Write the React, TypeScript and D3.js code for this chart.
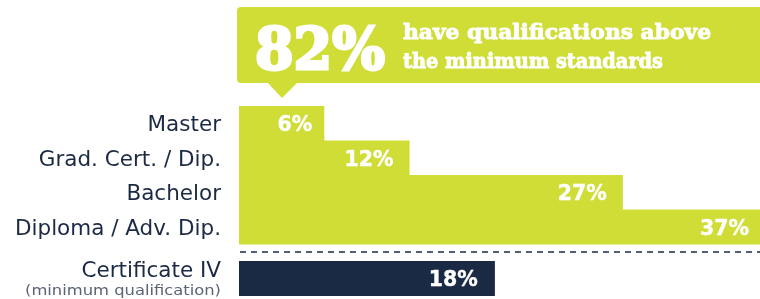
import React from 'react';
import * as d3 from 'd3';

// qualifications above the minimum standard
const categories = ['Master', 'Grad. Cert. / Dip.', 'Bachelor', 'Diploma / Adv. Dip.'];
const values = [6, 12, 27, 37];

// the minimum qualification
const minCategory = 'Certificate IV';
const minNote = '(minimum qualification)';
const minValue = 18;

const headlineValue = 82;
const headlineText = ['have qualifications above', 'the minimum standards'];

const LIME = '#cfdd36';
const NAVY = '#1b2a44';

const App = () => {
    const x = d3.scaleLinear().domain([0, 37]).range([239, 765]);

    const y = d3.scaleBand()
        .domain(categories)
        .range([106, 244])
        .padding(0);

    const labelX = 221;
    const labelFont = "'DejaVu Sans', sans-serif";
    const slabFont = "'DejaVu Serif', serif";

    return (
        <svg width={760} height={299}
            style={{ position: 'fixed', left: 0, top: 0, display: 'block' }}>
            {/* callout */}
            <rect x={237} y={7} width={540} height={76} rx={4} fill={LIME} />
            <path d="M267,82 L282,98 L298,82 Z" fill={LIME} />
            <text x={255} y={69} fill="#fff" stroke="#fff" strokeWidth={3}
                fontFamily={slabFont} fontWeight="bold" fontSize={57}
                textLength={130} lengthAdjust="spacingAndGlyphs">
                {headlineValue}%
            </text>
            {headlineText.map((t, i) => (
                <text key={t} x={403} y={39 + i * 29} fill="#fff" stroke="#fff" strokeWidth={0.9}
                    fontFamily={slabFont} fontWeight="bold" fontSize={21}
                    textLength={i === 0 ? 308 : 260} lengthAdjust="spacingAndGlyphs">
                    {t}
                </text>
            ))}

            {/* bars */}
            {categories.map((c, i) => (
                <g key={c}>
                    <rect x={x(0)} y={y(c)} width={x(values[i]) - x(0)}
                        height={y.bandwidth() + 0.5} fill={LIME} />
                    <text x={labelX} y={y(c) + y.bandwidth() / 2 + 8} textAnchor="end"
                        fill={NAVY} fontFamily={labelFont} fontSize={21.5}>
                        {c}
                    </text>
                    <text x={Math.min(x(values[i]) - (i === 0 ? 12 : 16), 752)}
                        y={y(c) + y.bandwidth() / 2 + 8}
                        textAnchor="end" fill="#fff" stroke="#fff" strokeWidth={0.4}
                        fontFamily={labelFont} fontWeight="bold" fontSize={20.5}>
                        {values[i]}%
                    </text>
                </g>
            ))}

            {/* divider */}
            <line x1={240} x2={760} y1={252} y2={252} stroke={NAVY}
                strokeWidth={1.5} strokeDasharray="6 5" />

            {/* minimum */}
            <rect x={x(0)} y={261} width={x(minValue) - x(0)} height={35} fill={NAVY} />
            <text x={labelX} y={277} textAnchor="end" fill={NAVY}
                fontFamily={labelFont} fontSize={21.5}>
                {minCategory}
            </text>
            <text x={labelX} y={295} textAnchor="end" fill="#5b6475"
                fontFamily={labelFont} fontSize={14.5}
                textLength={196} lengthAdjust="spacingAndGlyphs">
                {minNote}
            </text>
            <text x={x(minValue) - 17} y={286} textAnchor="end" fill="#fff" stroke="#fff"
                strokeWidth={0.4} fontFamily={labelFont} fontWeight="bold" fontSize={20.5}>
                {minValue}%
            </text>
        </svg>
    );
};

export default App;
